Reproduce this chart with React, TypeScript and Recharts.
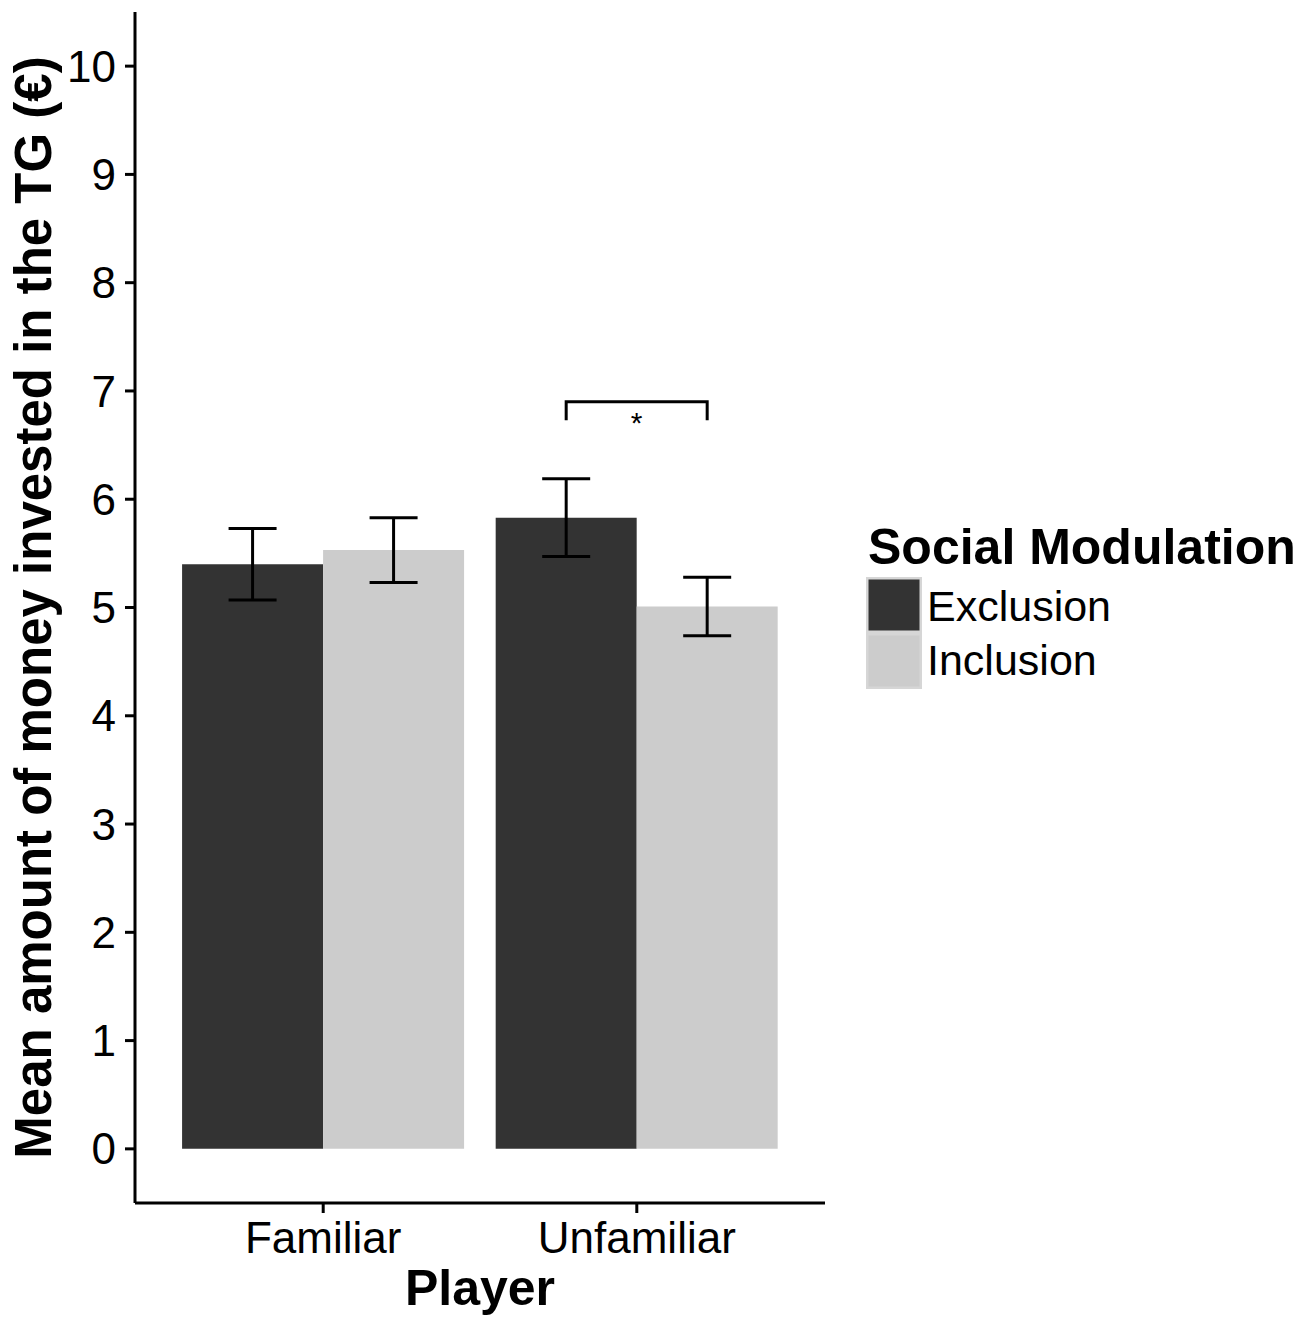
import { Bar, BarChart, ErrorBar, Legend, Rectangle, XAxis, YAxis } from 'recharts';

const FONT = '"Liberation Sans", Arial, Helvetica, sans-serif';

const players = ['Familiar', 'Unfamiliar'];
const exclusionMeans = [5.4, 5.83];
const exclusionErrors = [0.33, 0.36];
const inclusionMeans = [5.53, 5.01];
const inclusionErrors = [0.3, 0.27];
const yTicks = [0, 1, 2, 3, 4, 5, 6, 7, 8, 9, 10];

// significance bracket (Exclusion vs Inclusion, Unfamiliar)
const sigPlayer = 'Unfamiliar';
const sigTop = 6.9;
const sigTip = 6.73;
const sigLabel = '*';

const data = players.map((player, i) => ({
  player,
  exclusion: exclusionMeans[i],
  exclusionErr: exclusionErrors[i],
  inclusion: inclusionMeans[i],
  inclusionErr: inclusionErrors[i],
}));

function ExclusionShape(props: any) {
  const { x, y, width, height, fill, payload } = props;
  const bar = <Rectangle x={x} y={y} width={width} height={height} fill={fill} />;
  if (payload.player !== sigPlayer) return bar;
  // px per unit from this bar (base at 0)
  const k = height / payload.exclusion;
  const base = y + height;
  const top = base - sigTop * k;
  const tip = base - sigTip * k;
  const x1 = x + width / 2;
  const x2 = x + width * 1.5;
  return (
    <g>
      {bar}
      <path d={`M${x1},${tip} L${x1},${top} L${x2},${top} L${x2},${tip}`} fill="none" stroke="#000" strokeWidth={3} />
      <text x={(x1 + x2) / 2} y={top + 31} textAnchor="middle" fontSize={30} fontFamily={FONT} fill="#000">
        {sigLabel}
      </text>
    </g>
  );
}

function YTitle(props: any) {
  const { viewBox } = props;
  const cx = viewBox.x + 51;
  const cy = viewBox.y + viewBox.height / 2;
  return (
    <text x={cx} y={cy} transform={`rotate(-90 ${cx} ${cy})`} textAnchor="middle" fontSize={51} fontWeight={700} fontFamily={FONT} fill="#000">
      Mean amount of money invested in the TG (€)
    </text>
  );
}

function XTitle(props: any) {
  const { viewBox } = props;
  return (
    <text x={viewBox.x + viewBox.width / 2} y={viewBox.y + 102} textAnchor="middle" fontSize={50} fontWeight={700} fontFamily={FONT} fill="#000">
      Player
    </text>
  );
}

function LegendBox(props: any) {
  const { payload = [] } = props;
  return (
    <svg width={445} height={190} style={{ display: 'block' }}>
      <text x={6} y={53.5} fontSize={50} fontWeight={700} fontFamily={FONT} fill="#000">
        Social Modulation
      </text>
      {payload.map((entry: any, i: number) => (
        <g key={entry.value}>
          <rect x={4} y={67 + i * 56} width={56} height={56} fill="#d6d6d6" />
          <rect x={6.5} y={69.5 + i * 56} width={51} height={51} fill={entry.color} />
          <text x={65} y={110.5 + i * 54} fontSize={43} fontFamily={FONT} fill="#000">
            {entry.value}
          </text>
        </g>
      ))}
    </svg>
  );
}

export default function App() {
  return (
    <div style={{ position: 'absolute', left: 0, top: 0, background: '#fff', fontFamily: FONT }}>
      <BarChart width={1313} height={1317} data={data} margin={{ top: 12, right: 488, bottom: 0, left: 0 }} barCategoryGap="5%" barGap={0}>
        <XAxis
          dataKey="player"
          height={114}
          padding={{ left: 31.4, right: 31.4 }}
          axisLine={{ stroke: '#000', strokeWidth: 3 }}
          tickLine={{ stroke: '#000', strokeWidth: 3 }}
          tickSize={10}
          tickMargin={9}
          tick={{ fontSize: 44, fill: '#000', fontFamily: FONT }}
          label={<XTitle />}
        />
        <YAxis
          width={135}
          domain={[-0.5, 10.5]}
          ticks={yTicks}
          interval={0}
          axisLine={{ stroke: '#000', strokeWidth: 3 }}
          tickLine={{ stroke: '#000', strokeWidth: 3 }}
          tickSize={10}
          tickMargin={9}
          tick={{ fontSize: 44, fill: '#000', fontFamily: FONT }}
          label={<YTitle />}
        />
        <Legend
          layout="vertical"
          align="center"
          verticalAlign="middle"
          wrapperStyle={{ left: 862, top: 510, width: 445, height: 190 }}
          content={<LegendBox />}
        />
        <Bar dataKey="exclusion" name="Exclusion" fill="#333333" isAnimationActive={false} shape={<ExclusionShape />}>
          <ErrorBar dataKey="exclusionErr" width={24} stroke="#000" strokeWidth={3} isAnimationActive={false} />
        </Bar>
        <Bar dataKey="inclusion" name="Inclusion" fill="#cccccc" isAnimationActive={false}>
          <ErrorBar dataKey="inclusionErr" width={24} stroke="#000" strokeWidth={3} isAnimationActive={false} />
        </Bar>
      </BarChart>
    </div>
  );
}
